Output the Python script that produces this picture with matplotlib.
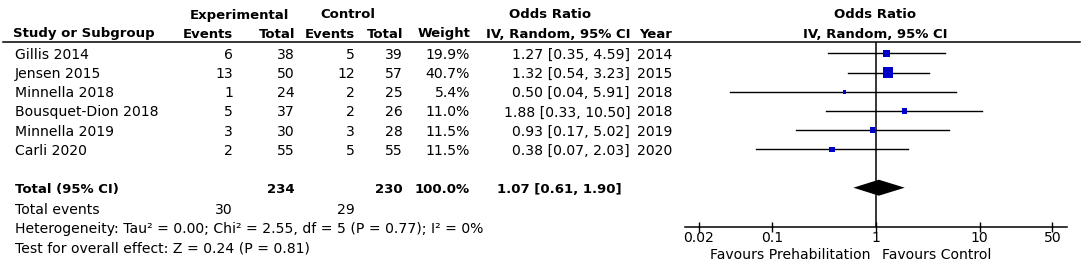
import numpy as np
import matplotlib
matplotlib.use("Agg")
import matplotlib.pyplot as plt

# study data
studies = ["Gillis 2014", "Jensen 2015", "Minnella 2018",
           "Bousquet-Dion 2018", "Minnella 2019", "Carli 2020"]
exp_events = [6, 13, 1, 5, 3, 2]
exp_total = [38, 50, 24, 37, 30, 55]
ctl_events = [5, 12, 2, 2, 3, 5]
ctl_total = [39, 57, 25, 26, 28, 55]
weights = [19.9, 40.7, 5.4, 11.0, 11.5, 11.5]
odds = [1.27, 1.32, 0.50, 1.88, 0.93, 0.38]
ci_low = [0.35, 0.54, 0.04, 0.33, 0.17, 0.07]
ci_high = [4.59, 3.23, 5.91, 10.50, 5.02, 2.03]
years = [2014, 2015, 2018, 2018, 2019, 2020]

# pooled result
total_exp, total_ctl = 234, 230
events_exp, events_ctl = 30, 29
pooled_or, pooled_lo, pooled_hi = 1.07, 0.61, 1.90
ticks = [0.02, 0.1, 1, 10, 50]

FS = 10.1
FSB = 9.5
W, H = 1084, 267
fig = plt.figure(figsize=(W / 100, H / 100), dpi=100)
plt.rcParams['font.family'] = ['DejaVu Sans']

# table axes in pixel units
tab = fig.add_axes([0, 0, 1, 1])
tab.set_xlim(0, W)
tab.set_ylim(H, 0)
tab.axis('off')

def txt(x, y, s, ha='left', bold=False):
    tab.text(x, y, s, ha=ha, va='center', fontsize=FSB if bold else FS,
             fontweight='bold' if bold else 'normal')

row0, step = 53.3, 19.2
rows = [row0 + step * i for i in range(len(studies))]
total_y = row0 + step * 7
dy = 1.5

# headers
txt(239, 15, "Experimental", 'center', True)
txt(348, 15, "Control", 'center', True)
txt(550, 15, "Odds Ratio", 'center', True)
txt(875, 15, "Odds Ratio", 'center', True)
hy = 34
txt(13, hy, "Study or Subgroup", bold=True)
txt(233, hy, "Events", 'right', True)
txt(295, hy, "Total", 'right', True)
txt(355, hy, "Events", 'right', True)
txt(403, hy, "Total", 'right', True)
txt(470, hy, "Weight", 'right', True)
txt(630, hy, "IV, Random, 95% CI", 'right', True)
txt(672, hy, "Year", 'right', True)
txt(875, hy, "IV, Random, 95% CI", 'center', True)
tab.plot([3, 1080], [42, 42], color='black', lw=1.1)

for i, y in enumerate(rows):
    y = y + dy
    txt(15, y, studies[i])
    txt(233, y, str(exp_events[i]), 'right')
    txt(295, y, str(exp_total[i]), 'right')
    txt(355, y, str(ctl_events[i]), 'right')
    txt(403, y, str(ctl_total[i]), 'right')
    txt(470, y, f"{weights[i]:.1f}%", 'right')
    txt(630, y, f"{odds[i]:.2f} [{ci_low[i]:.2f}, {ci_high[i]:.2f}]", 'right')
    txt(637, y, str(years[i]))

ty = total_y + dy
txt(15, ty, "Total (95% CI)", bold=True)
txt(295, ty, str(total_exp), 'right', True)
txt(403, ty, str(total_ctl), 'right', True)
txt(470, ty, f"{sum(weights):.1f}%", 'right', True)
txt(622, ty, f"{pooled_or:.2f} [{pooled_lo:.2f}, {pooled_hi:.2f}]", 'right', True)
txt(15, 210, "Total events")
txt(233, 210, str(events_exp), 'right')
txt(355, 210, str(events_ctl), 'right')
txt(15, 229, "Heterogeneity: Tau² = 0.00; Chi² = 2.55, df = 5 (P = 0.77); I² = 0%")
txt(15, 248, "Test for overall effect: Z = 0.24 (P = 0.81)")
txt(871, 255, "Favours Prehabilitation", 'right')
txt(882, 255, "Favours Control", 'left')

# forest axes
x0, x1 = 685, 1067
yb, yt = 226.7, 42
ax = fig.add_axes([x0 / W, (H - yb) / H, (x1 - x0) / W, (yb - yt) / H])
ax.patch.set_alpha(0)
ax.set_xscale('log')
ax.set_xlim(10 ** -1.834, 10 ** 1.839)
ax.set_ylim(yb, yt)
for s in ['top', 'left', 'right']:
    ax.spines[s].set_visible(False)
ax.spines['bottom'].set_linewidth(1.1)
ax.set_yticks([])
ax.set_xticks(ticks)
ax.set_xticklabels([f"{t:g}" for t in ticks])
ax.minorticks_off()
ax.tick_params(axis='x', direction='inout', length=6.5, width=1,
               labelsize=FS, pad=0)

ax.axvline(1, color='black', lw=1.1)
for i, y in enumerate(rows):
    ax.plot([ci_low[i], ci_high[i]], [y, y], color='black', lw=1)
sides = 1.6 * np.sqrt(np.array(weights)) * 0.72
ax.scatter(odds, rows, marker='s', s=sides ** 2, color='#0000c8',
           linewidths=0, zorder=3)
half = 8
ax.fill([pooled_lo, pooled_or, pooled_hi, pooled_or],
        [total_y, total_y - half, total_y, total_y + half],
        color='black', lw=0, zorder=3)

fig.savefig("out.png", dpi=100)
